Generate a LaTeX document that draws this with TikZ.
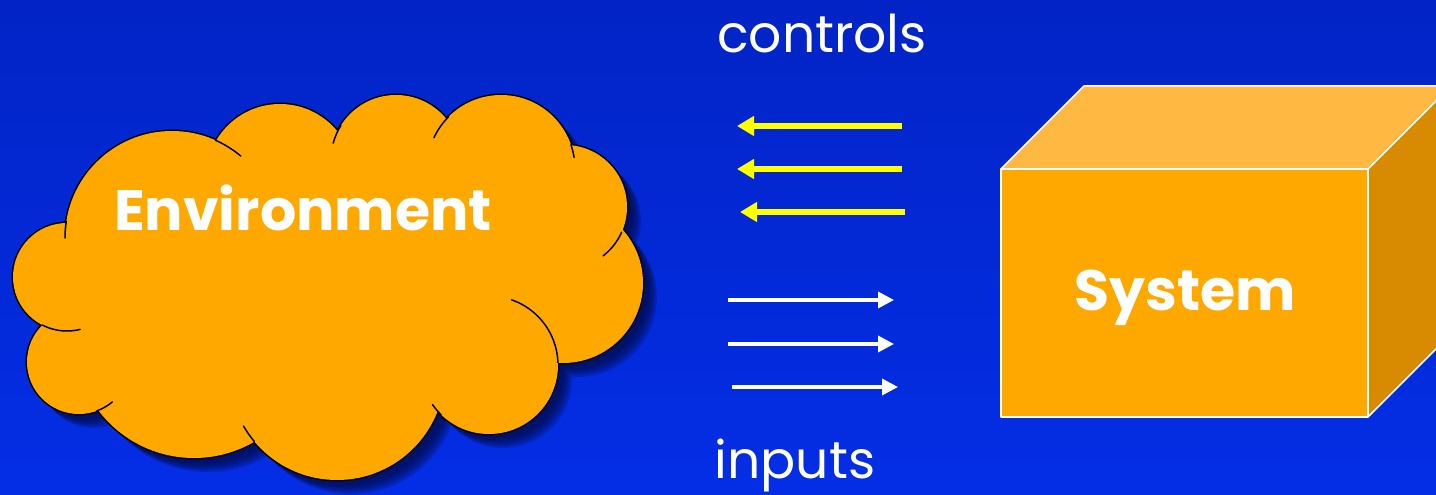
\documentclass[tikz,border=0pt]{standalone}
\usepackage{fontspec}
\setmainfont{Poppins}
\usetikzlibrary{arrows.meta}

\definecolor{bgtop}{RGB}{2,36,198}
\definecolor{bgbot}{RGB}{4,46,230}
\definecolor{cloudfill}{RGB}{255,168,0}
\definecolor{shadowc}{RGB}{0,8,60}
\definecolor{boxfront}{RGB}{255,168,0}
\definecolor{boxtop}{RGB}{255,185,66}
\definecolor{boxside}{RGB}{216,138,0}
\definecolor{ctrlyellow}{RGB}{255,255,0}

\tikzset{
  label text/.style={text=white, font=\fontsize{52}{60}\selectfont, inner sep=0pt},
  title text/.style={text=white, font=\bfseries\fontsize{57}{66}\selectfont, inner sep=0pt},
  control arrow/.style={draw=ctrlyellow, line width=6pt, -{Triangle[length=17pt,width=19pt]}},
  input arrow/.style={draw=white, line width=3.5pt, -{Triangle[length=16pt,width=16pt]}},
  box edge/.style={draw=white, line width=1.5pt, line join=round},
  cloud fold/.style={draw=black, line width=1.5pt, line cap=round},
}

% lobes of the cloud: centre x / centre y / radius
\def\lobes{67/277/54,79/362/52,194/338/120,337/372/108,489/365/69,563/283/80,565/207/62,501/169/74,396/160/65,280/178/74,172/238/107}

\begin{document}
\begin{tikzpicture}[x=1pt,y=-1pt]
  % background
  \shade[top color=bgtop, bottom color=bgbot] (0,0) rectangle (1436,495);
  \useasboundingbox (0,0) rectangle (1436,495);

  % cloud: soft drop shadow
  \foreach \off in {6,8,10,12,14}{
    \fill[shadowc, opacity=0.22]
      \foreach \cx/\cy/\cr in \lobes {(\cx+\off,\cy+\off) circle[radius=\cr pt]};
  }
  % cloud: outline of the lobes, then the fill on top
  \draw[black, line width=3pt]
    \foreach \cx/\cy/\cr in \lobes {(\cx,\cy) circle[radius=\cr pt]};
  \fill[cloudfill]
    \foreach \cx/\cy/\cr in \lobes {(\cx,\cy) circle[radius=\cr pt]};
  \fill[cloudfill] (67,277)--(79,362)--(194,338)--(337,372)--(489,365)--(563,283)
    --(565,207)--(501,169)--(396,160)--(280,178)--(172,238)--cycle;

  % cloud: folds where one lobe runs on inside another
  \foreach \cx/\cy/\cr/\a/\b in {
      172/238/107/180/189,
      67/277/54/76/117,
      79/362/52/50/70,
      337/372/108/140/150,
      489/365/69/134/145,
      489/365/69/289/358,
      565/207/62/24/52,
      501/169/74/-19/-9,
      501/169/74/205/225,
      396/160/65/195/212,
      172/238/107/-66/-50}{
    \draw[cloud fold] plot[domain=\a:\b, samples=12, smooth]
      ({\cx+\cr*cos(\x)},{\cy+\cr*sin(\x)});
  }
  \node[title text] (env) at (303,208) {Environment};

  % system block
  \fill[boxtop] (1001,169) -- (1084,86) -- (1451,86) -- (1368,169) -- cycle;
  \fill[boxside] (1368,169) -- (1451,86) -- (1451,334) -- (1368,417) -- cycle;
  \fill[boxfront] (1001,169) rectangle (1368,417);
  \draw[box edge] (1001,169) -- (1084,86) -- (1451,86);
  \draw[box edge] (1368,169) -- (1451,86);
  \draw[box edge] (1368,417) -- (1451,334);
  \draw[box edge] (1001,169) rectangle (1368,417);
  \node[title text] (sys) at (1185,298) {System};

  % labels
  \node[label text] (controls) at (822,33) {controls};
  \node[label text] (inputs) at (795,465) {inputs};

  % control arrows (system to environment)
  \coordinate (c1s) at (902,126); \coordinate (c1e) at (737,126);
  \coordinate (c2s) at (902,169); \coordinate (c2e) at (737,169);
  \coordinate (c3s) at (905,212); \coordinate (c3e) at (740,212);
  \draw[control arrow] (c1s) -- (c1e);
  \draw[control arrow] (c2s) -- (c2e);
  \draw[control arrow] (c3s) -- (c3e);

  % input arrows (environment to system)
  \coordinate (i1s) at (728,300); \coordinate (i1e) at (894,300);
  \coordinate (i2s) at (728,344); \coordinate (i2e) at (894,344);
  \coordinate (i3s) at (732,387); \coordinate (i3e) at (898,387);
  \draw[input arrow] (i1s) -- (i1e);
  \draw[input arrow] (i2s) -- (i2e);
  \draw[input arrow] (i3s) -- (i3e);
\end{tikzpicture}
\end{document}
